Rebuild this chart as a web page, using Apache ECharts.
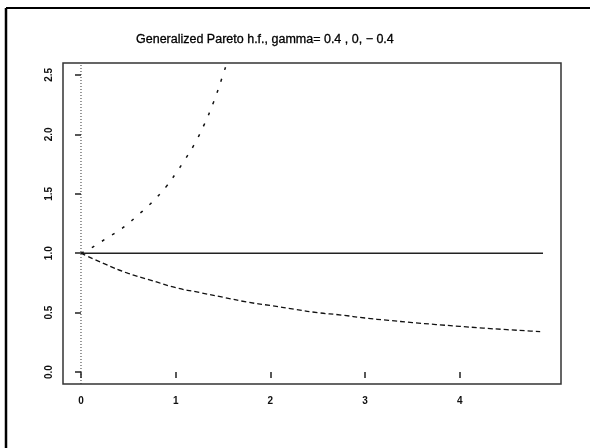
<!DOCTYPE html>
<html>
<head>
<meta charset="utf-8">
<script src="https://cdn.jsdelivr.net/npm/echarts@6/dist/echarts.min.js"></script>
<style>
  html, body { margin: 0; padding: 0; background: #fff; }
  #chart { width: 590px; height: 448px; }
</style>
</head>
<body>
<div id="chart"></div>
<script>
// Hazard functions of the generalized Pareto distribution for three shapes.
var titleText = 'Generalized Pareto h.f., gamma= 0.4 , 0, \u2212 0.4';

// gamma = 0.4 : increasing hazard (x, h)
var hazardPosX = [0, 0.1, 0.2, 0.3, 0.4, 0.5, 0.6, 0.7, 0.8, 0.9, 1.0, 1.1, 1.2, 1.3, 1.4, 1.5, 1.54];
var hazardPosY = [1.0, 1.04, 1.09, 1.14, 1.19, 1.25, 1.32, 1.39, 1.47, 1.56, 1.67, 1.79, 1.92, 2.08, 2.27, 2.5, 2.6];

// gamma = 0 : constant hazard
var hazardZeroX = [0, 4.88];
var hazardZeroY = [1.0, 1.0];

// gamma = -0.4 : decreasing hazard
var hazardNegX = [0, 0.25, 0.5, 0.75, 1.0, 1.25, 1.5, 1.75, 2.0, 2.25, 2.5, 2.75, 3.0, 3.25, 3.5, 3.75, 4.0, 4.25, 4.5, 4.75, 4.85];
var hazardNegY = [1.0, 0.91, 0.83, 0.77, 0.71, 0.67, 0.63, 0.59, 0.56, 0.53, 0.50, 0.48, 0.455, 0.435, 0.417, 0.40, 0.385, 0.37, 0.357, 0.345, 0.34];

// dotted reference line at x = 0
var originLineX = [0, 0];
var originLineY = [-0.1, 2.6];

// axis ticks and labels
var xTicks = [0, 1, 2, 3, 4];
var xTickLabels = ['0', '1', '2', '3', '4'];
var yTicks = [0, 0.5, 1.0, 1.5, 2.0, 2.5];
var yTickLabels = ['0.0', '0.5', '1.0', '1.5', '2.0', '2.5'];

function pairs(xs, ys) {
  return xs.map(function (x, i) { return [x, ys[i]]; });
}

var chart = echarts.init(document.getElementById('chart'), null, { renderer: 'canvas' });

var labelFont = { fontFamily: 'Liberation Sans, Arial, sans-serif', fontSize: 10, fontWeight: 'bold', color: '#111' };

chart.setOption({
  animation: false,
  backgroundColor: '#fff',
  title: {
    text: titleText,
    left: 131,
    top: 28,
    textStyle: { fontFamily: 'Liberation Sans, Arial, sans-serif', fontSize: 12.5, fontWeight: 'normal', color: '#000', textBorderColor: '#000', textBorderWidth: 0.3 }
  },
  grid: {
    left: 63, top: 63, right: 29, bottom: 64,
    show: true, borderColor: '#333', borderWidth: 1.5, backgroundColor: 'transparent'
  },
  xAxis: {
    type: 'value',
    min: -0.19, max: 5.07,
    axisLine: { show: false },
    splitLine: { show: false },
    axisTick: { show: true, inside: false, length: 6, customValues: xTicks, lineStyle: { color: '#222', width: 1.5 } },
    axisLabel: Object.assign({
      customValues: xTicks,
      margin: 12,
      formatter: function (v) { return xTickLabels[xTicks.indexOf(v)]; }
    }, labelFont)
  },
  yAxis: {
    type: 'value',
    min: -0.1, max: 2.6,
    axisLine: { show: false },
    splitLine: { show: false },
    axisTick: { show: true, inside: false, length: 6, customValues: yTicks, lineStyle: { color: '#222', width: 1.5 } },
    axisLabel: Object.assign({
      customValues: yTicks,
      rotate: 90,
      margin: 9,
      formatter: function (v) { return yTickLabels[yTicks.indexOf(v)]; }
    }, labelFont)
  },
  series: [
    {
      name: 'origin',
      type: 'line',
      data: pairs(originLineX, originLineY),
      symbol: 'none',
      lineStyle: { color: '#333', width: 1, type: [1, 2] },
      silent: true
    },
    {
      name: 'gamma = 0.4',
      type: 'line',
      data: pairs(hazardPosX, hazardPosY),
      symbol: 'none',
      smooth: true,
      lineStyle: { color: '#111', width: 1.5, type: [3, 9] }
    },
    {
      name: 'gamma = 0',
      type: 'line',
      data: pairs(hazardZeroX, hazardZeroY),
      symbol: 'none',
      lineStyle: { color: '#222', width: 1.5 }
    },
    {
      name: 'gamma = -0.4',
      type: 'line',
      data: pairs(hazardNegX, hazardNegY),
      symbol: 'none',
      smooth: true,
      lineStyle: { color: '#111', width: 1.3, type: [5, 3] }
    }
  ],
  graphic: [
    { type: 'line', shape: { x1: 6, y1: 8, x2: 590, y2: 8 }, style: { stroke: '#000', lineWidth: 2 } },
    { type: 'line', shape: { x1: 6, y1: 8, x2: 6, y2: 448 }, style: { stroke: '#000', lineWidth: 2.5 } }
  ]
});
</script>
</body>
</html>
